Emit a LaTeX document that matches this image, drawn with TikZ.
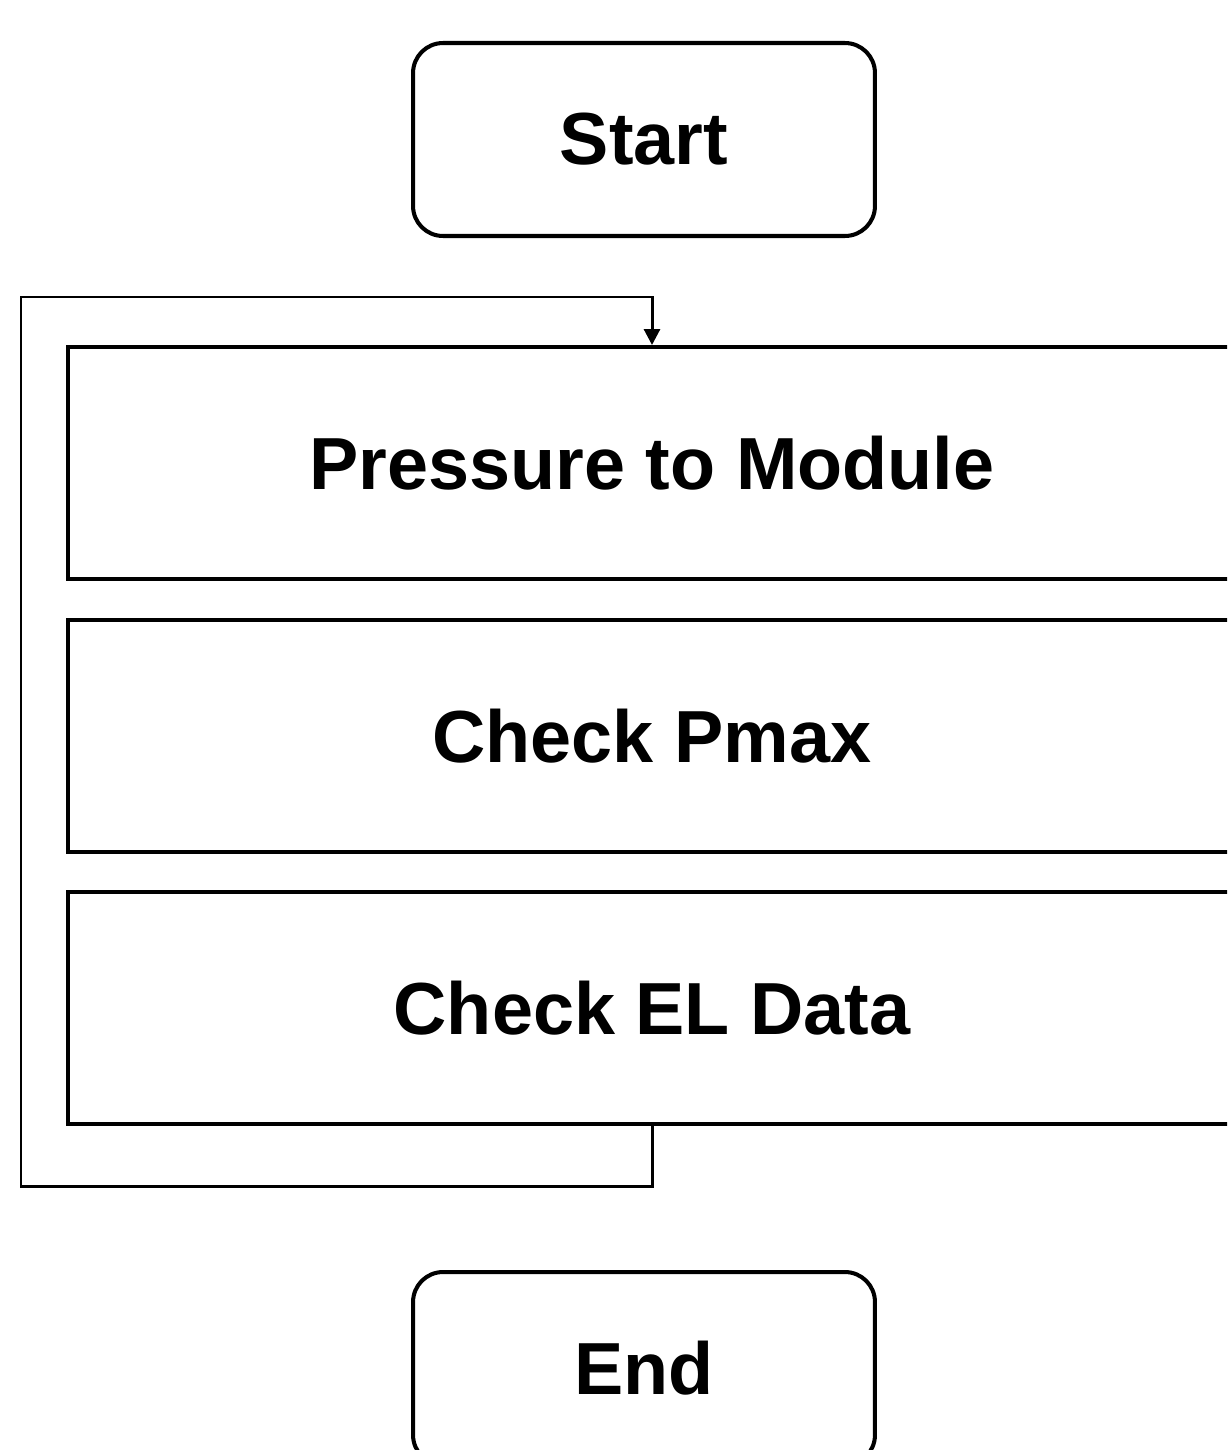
\documentclass[tikz,border=0pt]{standalone}
\usepackage{fontspec}
\setmainfont{Liberation Sans}
\usetikzlibrary{arrows.meta}

\begin{document}
\begin{tikzpicture}[
        x=0.02cm, y=-0.02cm,
        term_style/.style={draw=black, line width=2.3pt, rounded corners=0.6cm,
            minimum width=9.24cm, minimum height=3.86cm, inner sep=0pt,
            font=\fontsize{42}{50}\selectfont\bfseries},
        step_style/.style={draw=black, line width=2.3pt,
            minimum width=23.36cm, minimum height=4.64cm, inner sep=0pt,
            font=\fontsize{42}{50}\selectfont\bfseries},
        loop_style/.style={black, line width=1.7pt, line join=miter,
            -{Triangle[length=9pt, width=9pt]}}
    ]
        % Page frame
        \useasboundingbox (0,0) rectangle (1227,1450);
        \clip (0,0) rectangle (1227,1450);

        % Coordinates
        \coordinate (loop_bl) at (21,1186);
        \coordinate (loop_tl) at (21,297);

        % Nodes
        \node[term_style] (start) at (644,139.5) {Start};
        \node[step_style] (pressure) at (652,463) {Pressure to Module};
        \node[step_style] (pmax) at (652,736) {Check Pmax};
        \node[step_style] (eldata) at (652,1008) {Check EL Data};
        \node[term_style] (finish) at (644,1368.5) {End};

        % Repeat loop
        \draw[loop_style] (eldata.south) |- (loop_bl) -- (loop_tl) -| (pressure.north);
    \end{tikzpicture}
\end{document}
